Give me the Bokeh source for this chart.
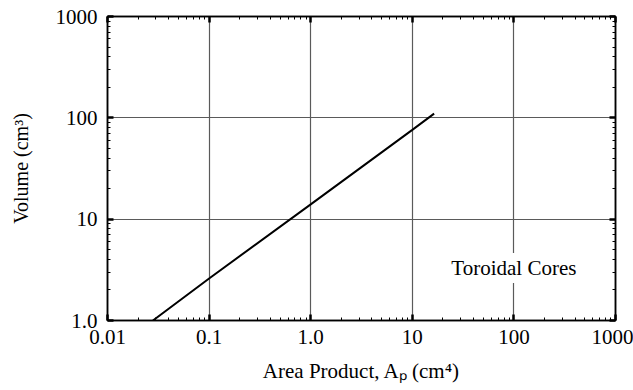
from bokeh.plotting import figure
from bokeh.models import FixedTicker, LogAxis, Label, Range1d
from bokeh.embed import file_html
from bokeh.resources import INLINE

# Data
area_product = [0.028, 0.1, 1.0, 10.0, 16.4]
volume = [1.0, 2.6, 14.0, 76.0, 110.0]

x_ticks = [0.01, 0.1, 1, 10, 100, 1000]
x_tick_labels = ["0.01", "0.1", "1.0", "10", "100", "1000"]
y_ticks = [1, 10, 100, 1000]
y_tick_labels = ["1.0", "10", "100", "1000"]

annotation_text = "Toroidal Cores"
annotation_x = 100
annotation_y = 3.3

FONT = "Liberation Serif"
FS = "21px"

x_minor = [m * d for d in [0.01, 0.1, 1, 10, 100] for m in range(2, 10)]
y_minor = [m * d for d in [1, 10, 100] for m in range(2, 10)]

p = figure(width=633, height=390, x_axis_type="log", y_axis_type="log",
           x_range=Range1d(0.01, 1000), y_range=Range1d(1, 1000),
           output_backend="svg", toolbar_location=None,
           min_border_left=107, min_border_right=18, min_border_top=16,
           min_border_bottom=70)
p.background_fill_color = "white"
p.border_fill_color = "white"
p.outline_line_color = "black"
p.outline_line_width = 1.5

xt = FixedTicker(ticks=x_ticks, minor_ticks=x_minor)
yt = FixedTicker(ticks=y_ticks, minor_ticks=y_minor)

xax = p.below[0]
yax = p.left[0]

xax.ticker = xt
yax.ticker = yt
xax.major_label_overrides = {t: l for t, l in zip(x_ticks, x_tick_labels)}
yax.major_label_overrides = {t: l for t, l in zip(y_ticks, y_tick_labels)}
xax.axis_label = "Area Product, A\u209a (cm\u2074)"
yax.axis_label = "Volume (cm\u00b3)"

top = LogAxis(ticker=xt, major_label_text_font_size="1px",
              major_label_text_color=None, major_label_standoff=0)
right = LogAxis(ticker=yt, major_label_text_font_size="1px",
                major_label_text_color=None, major_label_standoff=0)

for ax in [xax, yax, top, right]:
    ax.major_tick_in = 6
    ax.major_tick_out = 0
    ax.minor_tick_in = 3
    ax.minor_tick_out = 0
    ax.major_tick_line_width = 2.5
    ax.minor_tick_line_width = 1
    ax.axis_line_width = 1.5
    ax.axis_line_color = "black"
    ax.major_tick_line_color = "black"
    ax.minor_tick_line_color = "black"
    ax.major_label_text_font = FONT
    ax.axis_label_text_font = FONT
    ax.axis_label_text_font_style = "normal"
    ax.axis_label_text_font_size = FS
    ax.axis_label_text_color = "black"

for ax in [xax, yax]:
    ax.major_label_text_font_size = FS
    ax.major_label_text_color = "black"

yax.axis_label_text_font_size = "20px"
xax.major_label_standoff = 9
yax.major_label_standoff = 10
xax.axis_label_standoff = 12
yax.axis_label_standoff = 21

p.add_layout(top, "above")
p.add_layout(right, "right")

p.xgrid.ticker = xt
p.ygrid.ticker = yt
p.grid.grid_line_color = "#5a5a5a"
p.grid.grid_line_width = 1.2

p.line(area_product, volume, line_color="black", line_width=2)

lab = Label(x=annotation_x, y=annotation_y, text=annotation_text,
            text_align="center", text_baseline="middle",
            text_font=FONT, text_font_size=FS, text_color="black",
            background_fill_color="white", padding=3)
p.add_layout(lab)

open("out.html", "w").write(file_html(p, INLINE))
